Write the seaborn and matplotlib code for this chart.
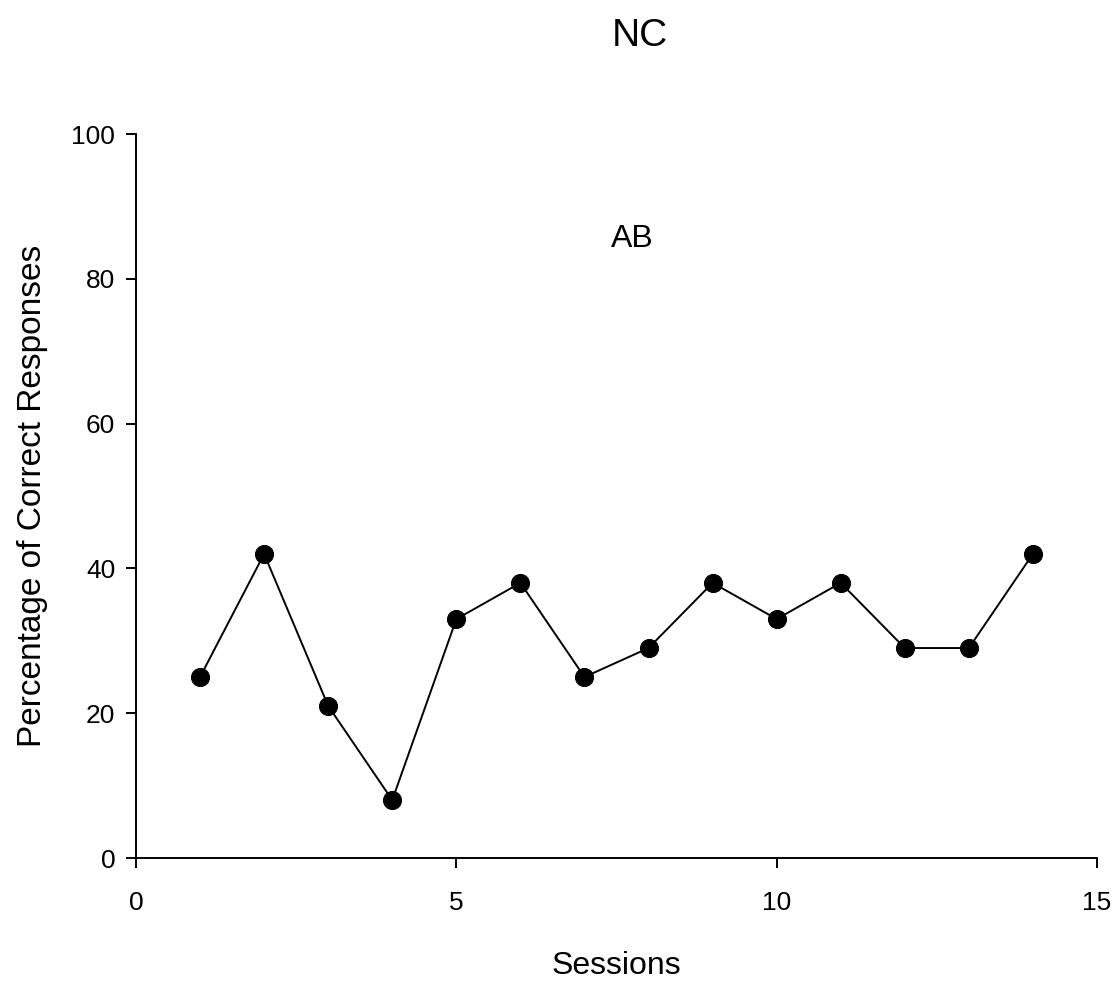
import matplotlib
matplotlib.use("Agg")
import matplotlib.pyplot as plt
import seaborn as sns
import pandas as pd

sessions = [1, 2, 3, 4, 5, 6, 7, 8, 9, 10, 11, 12, 13, 14]
percent_correct = [25, 42, 21, 8, 33, 38, 25, 29, 38, 33, 38, 29, 29, 42]
x_ticks = [0, 5, 10, 15]
y_ticks = [0, 20, 40, 60, 80, 100]

sns.set_style("ticks")
plt.rcParams['font.family'] = ['Liberation Sans', 'DejaVu Sans']
for k in ["text.color", "axes.labelcolor", "xtick.color", "ytick.color", "axes.edgecolor"]:
    plt.rcParams[k] = "black"

df = pd.DataFrame({"Sessions": sessions, "Percent": percent_correct})

fig = plt.figure(figsize=(11.2, 9.84), dpi=100)
ax = fig.add_axes([136/1120, 1 - 858/984, (1097-136)/1120, (858-134)/984])

sns.lineplot(data=df, x="Sessions", y="Percent", ax=ax, color="black",
             marker="o", markersize=13, markeredgecolor="black",
             markerfacecolor="black", linewidth=1.4)

ax.set_xlim(0, 15)
ax.set_ylim(0, 100)
ax.set_xticks(x_ticks)
ax.set_yticks(y_ticks)
ax.set_xticklabels([str(t) for t in x_ticks])
ax.set_yticklabels([str(t) for t in y_ticks])
sns.despine(ax=ax)
for s in ["left", "bottom"]:
    ax.spines[s].set_linewidth(1.4)
    ax.spines[s].set_color("black")
ax.tick_params(axis="both", direction="out", length=7, width=1.4, labelsize=19,
               colors="black")
ax.tick_params(axis="y", pad=8)
ax.tick_params(axis="x", pad=17)

ax.set_xlabel("Sessions", fontsize=23, labelpad=26, color="black")
ax.set_ylabel("Percentage of Correct Responses", fontsize=24, labelpad=17, color="black")

ax.text(7.75, 85.5, "AB", fontsize=23, ha="center", va="center", color="black")
fig.text(640/1120, 1 - 36/984, "NC", fontsize=28, ha="center", va="center", color="black")

fig.savefig("out.png", dpi=100)
